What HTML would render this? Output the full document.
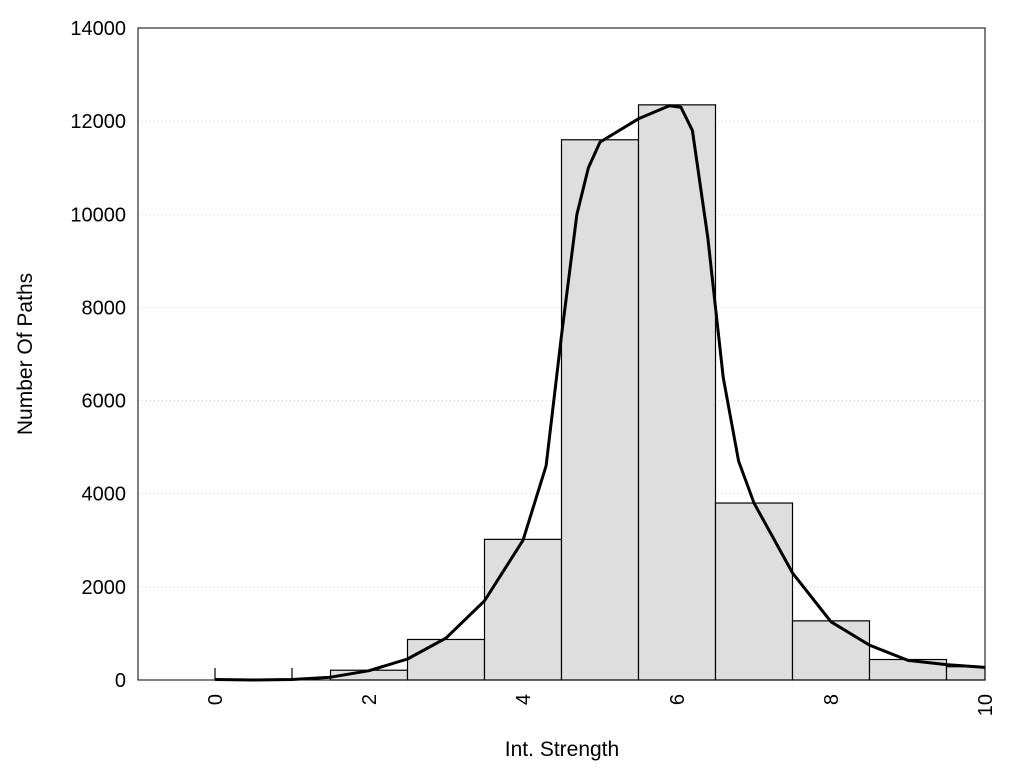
<!DOCTYPE html>
<html><head><meta charset="utf-8"><style>
html,body{margin:0;padding:0;background:#fff;}
svg{font-family:"Liberation Sans",Arial,sans-serif;}
</style></head><body>
<svg id="chart" width="1024" height="768">
<rect x="138" y="28" width="847" height="652" fill="#fff"/>
<g id="grid"></g><g id="bars"></g><g id="curve"></g><g id="axes"></g>
<text x="562" y="756" text-anchor="middle" font-size="21">Int. Strength</text>
<text transform="translate(32,354) rotate(-90)" text-anchor="middle" font-size="21">Number Of Paths</text>
</svg>
<script>
const binCenters=[2,3,4,5,6,7,8,9,10];
const binCounts=[210,870,3020,11600,12350,3800,1270,440,285];
const curveX=[0,0.5,1,1.5,2,2.5,3,3.5,4,4.3,4.5,4.7,4.85,5,5.5,5.9,6.05,6.2,6.4,6.6,6.8,7,7.5,8,8.5,9,9.5,10];
const curveY=[10,0,10,60,200,450,900,1700,3000,4600,7400,10000,11000,11550,12050,12330,12300,11800,9500,6500,4700,3800,2300,1250,750,420,330,270];
const yTicks=[0,2000,4000,6000,8000,10000,12000,14000];
const xTicks=[0,2,4,6,8,10];
const NS="http://www.w3.org/2000/svg";
const X0=138,X1=985,Y0=680,Y1=28,xmin=-1,xmax=10,ymax=14000;
const sx=v=>X0+(v-xmin)/(xmax-xmin)*(X1-X0);
const sy=v=>Y0-v/ymax*(Y0-Y1);
function mk(tag,attrs,parent){const e=document.createElementNS(NS,tag);for(const k in attrs)e.setAttribute(k,attrs[k]);parent.appendChild(e);return e;}
const grid=document.getElementById('grid'),bars=document.getElementById('bars'),curve=document.getElementById('curve'),axes=document.getElementById('axes');
yTicks.forEach(t=>{
 if(t>0&&t<ymax){const l=mk('line',{x1:X0,x2:X1,y1:sy(t),y2:sy(t),stroke:'#ccc','stroke-dasharray':'1,3','stroke-width':1},grid);
 
 }
 const tx=mk('text',{x:X0-12,y:sy(t)+7,'text-anchor':'end','font-size':20},axes);tx.textContent=t;
 
 
});
xTicks.forEach(t=>{
 const tx=mk('text',{transform:`translate(${sx(t)+7},${Y0+14}) rotate(-90)`,'text-anchor':'end','font-size':20},axes);tx.textContent=t;
 
 
});
binCenters.forEach((c,i)=>{
 const a=sx(c-0.5),b=Math.min(sx(c+0.5),X1);
 const r=mk('rect',{x:a,y:sy(binCounts[i]),width:b-a,height:Y0-sy(binCounts[i]),fill:'#dedede',stroke:'#000','stroke-width':1.2},bars);
 
 
});
[0,1].forEach(v=>{const l=mk('line',{x1:sx(v),x2:sx(v),y1:Y0,y2:Y0-12,stroke:'#000','stroke-width':1.2},bars);
 
 });
let d='';curveX.forEach((x,i)=>{d+=(i?'L':'M')+sx(x).toFixed(1)+','+sy(curveY[i]).toFixed(1);});
const p=mk('path',{d:d,fill:'none',stroke:'#000','stroke-width':3,'stroke-linejoin':'round'},curve);


const fr=mk('rect',{x:X0,y:Y1,width:X1-X0,height:Y0-Y1,fill:'none',stroke:'#000','stroke-width':1},axes);


</script>
</body></html>
